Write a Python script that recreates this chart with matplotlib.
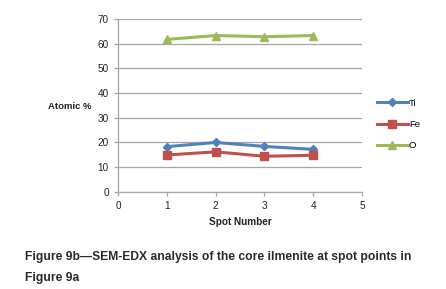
import matplotlib
matplotlib.use("Agg")
import matplotlib.pyplot as plt

spots = [1, 2, 3, 4]
ti = [18.2, 19.9, 18.3, 17.1]
fe = [14.8, 16.1, 14.3, 14.7]
o = [61.7, 63.3, 62.8, 63.3]

series = [("Ti", ti, "#4F81BD", "D", 4.5), ("Fe", fe, "#C0504D", "s", 5.5), ("O", o, "#9BBB59", "^", 6)]

plt.rcParams["font.family"] = ["Liberation Sans", "DejaVu Sans"]

W, H = 446, 289
fig = plt.figure(figsize=(W / 100, H / 100), dpi=100)
ax = fig.add_axes([118 / W, 1 - 191.5 / H, (362 - 118) / W, (191.5 - 19) / H])

for name, vals, color, marker, ms in series:
    ax.plot(spots, vals, color=color, lw=2.2, marker=marker, ms=ms, label=name)

ax.set_xlim(0, 5)
ax.set_ylim(0, 70)
ax.set_xticks(range(0, 6))
ax.set_yticks(range(0, 71, 10))
ax.yaxis.grid(True, color="#A6A6A6", lw=0.9)
ax.set_axisbelow(True)
for s in ["top", "right"]:
    ax.spines[s].set_visible(False)
for s in ["left", "bottom"]:
    ax.spines[s].set_color("#A6A6A6")
    ax.spines[s].set_linewidth(0.9)
ax.tick_params(colors="#A6A6A6", labelcolor="#222222", labelsize=7.2, length=3, width=0.9)

fig.text(70 / W, 1 - 106 / H, "Atomic %", fontsize=6.8, fontweight="bold", ha="center", va="center", color="#222222")
fig.text(240 / W, 1 - 222 / H, "Spot Number", fontsize=7.2, fontweight="bold", ha="center", va="center", color="#222222")

ax.legend(loc="upper left", bbox_to_anchor=(372 / W, 1 - 94 / H), bbox_transform=fig.transFigure,
          frameon=False, fontsize=6.8, handlelength=3.3, handletextpad=0.1, labelspacing=1.3, borderpad=0)

fig.text(25 / W, 1 - 257 / H, "Figure 9b\u2014SEM-EDX analysis of the core ilmenite at spot points in",
         fontsize=8.75, fontweight="bold", ha="left", va="center", color="#2a2a2a")
fig.text(25 / W, 1 - 278 / H, "Figure 9a", fontsize=8.75, fontweight="bold", ha="left", va="center", color="#2a2a2a")

fig.savefig("out.png", dpi=100)
